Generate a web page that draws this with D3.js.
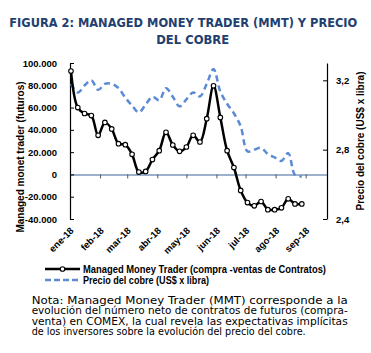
<!DOCTYPE html>
<html lang="es">
<head>
    <meta charset="utf-8" />
    <title>Figura 2: Managed Money Trader y precio del cobre</title>
    <script src="https://d3js.org/d3.v7.min.js"></script>
    <style>
        body { margin: 0; background: #fff; }
    </style>
</head>
<body>
<script>
    var w = 371;
    var h = 353;

    // fechas semanales (reportes COT, martes)
    var fechas = [
        "2018-01-02", "2018-01-09", "2018-01-16", "2018-01-23", "2018-01-30",
        "2018-02-06", "2018-02-13", "2018-02-20", "2018-02-27",
        "2018-03-06", "2018-03-13", "2018-03-20", "2018-03-27",
        "2018-04-03", "2018-04-10", "2018-04-17", "2018-04-24",
        "2018-05-01", "2018-05-08", "2018-05-15", "2018-05-22", "2018-05-29",
        "2018-06-05", "2018-06-12", "2018-06-19", "2018-06-26",
        "2018-07-03", "2018-07-10", "2018-07-17", "2018-07-24", "2018-07-31",
        "2018-08-07", "2018-08-14", "2018-08-21", "2018-08-28"
    ];
    // Managed Money Trader (contratos netos)
    var mmt = [
        92800, 60000, 54700, 52800, 35100,
        46700, 40800, 27600, 26700,
        18000, 2100, 2700, 13300,
        21300, 37800, 26400, 20700,
        24600, 35100, 29100, 50000, 79500,
        51200, 21300, 6200, -14400,
        -25300, -28200, -24300, -31600, -31600,
        -30000, -21900, -26500, -26500
    ];
    // Precio del cobre (US$ x libra)
    var precio = [
        3.18, 3.13, 3.17, 3.20, 3.145,
        3.18, 3.18, 3.155, 3.10,
        3.055, 3.015, 3.06, 3.105,
        3.085, 3.155, 3.105, 3.05,
        3.09, 3.13, 3.107, 3.18, 3.265,
        3.135, 3.065, 3.01, 2.935,
        2.79, 2.80, 2.81, 2.775, 2.755,
        2.735, 2.78, 2.655, 2.645
    ];
    var meses = ["ene-18", "feb-18", "mar-18", "abr-18", "may-18", "jun-18", "jul-18", "ago-18", "sep-18"];
    var mesesFecha = ["2018-01-01", "2018-02-01", "2018-03-01", "2018-04-01", "2018-05-01",
                      "2018-06-01", "2018-07-01", "2018-08-01", "2018-09-01"];
    var ticksIzq = [100000, 80000, 60000, 40000, 20000, 0, -20000, -40000];
    var ticksDer = [2.4, 2.8, 3.2];

    var nota = [
        "Nota: Managed Money Trader (MMT) corresponde a la",
        "evolución del número neto de contratos de futuros (compra-",
        "venta) en COMEX, la cual revela las expectativas implícitas",
        "de los inversores sobre la evolución del precio del cobre."
    ];

    var parse = d3.timeParse("%Y-%m-%d");
    var datos = fechas.map(function(f, i) {
        return { fecha: parse(f), mmt: mmt[i], precio: precio[i] };
    });

    // area del grafico (no usar "top": choca con window.top)
    var pLeft = 70, pRight = 327, pTop = 63, pBottom = 219;

    var es = d3.formatLocale({ decimal: ",", thousands: ".", grouping: [3], currency: ["$", ""], minus: "-" });

    var xScale = d3.scaleTime()
        .domain([parse("2018-01-01"), parse("2018-09-23")])
        .range([pLeft, pRight]);

    var yScale = d3.scaleLinear()
        .domain([-40000, 100000])
        .range([pBottom, pTop]);

    var y2Scale = d3.scaleLinear()
        .domain([2.4, 3.3])
        .range([pBottom, pTop]);

    var svg = d3.select("body")
        .append("svg")
        .attr("width", w)
        .attr("height", h);

    // titulo
    svg.append("text")
        .text("FIGURA 2: MANAGED MONEY TRADER (MMT) Y PRECIO")
        .attr("x", 183.3)
        .attr("y", 26.5)
        .attr("text-anchor", "middle")
        .attr("textLength", 348)
        .attr("lengthAdjust", "spacingAndGlyphs")
        .attr("font-family", "DejaVu Sans")
        .attr("font-stretch", "condensed")
        .attr("font-weight", "bold")
        .attr("font-size", "12.5px")
        .attr("fill", "#22406f");
    svg.append("text")
        .text("DEL COBRE")
        .attr("x", 192.7)
        .attr("y", 44.3)
        .attr("text-anchor", "middle")
        .attr("textLength", 73)
        .attr("lengthAdjust", "spacingAndGlyphs")
        .attr("font-family", "DejaVu Sans")
        .attr("font-stretch", "condensed")
        .attr("font-weight", "bold")
        .attr("font-size", "12.5px")
        .attr("fill", "#22406f");

    var fuente = "Liberation Sans";

    // eje x en cero (dibujado primero, debajo de las lineas)
    var ejeX = d3.axisBottom(xScale)
        .tickValues(mesesFecha.map(parse))
        .tickSizeInner(4)
        .tickSizeOuter(0)
        .tickFormat("");
    var gX = svg.append("g")
        .attr("transform", "translate(0," + yScale(0) + ")")
        .call(ejeX);
    gX.select(".domain").attr("stroke", "#7d97bd").attr("stroke-width", 1.5);
    gX.selectAll(".tick line").attr("stroke", "#555");

    // eje izquierdo
    var ejeIzq = d3.axisLeft(yScale)
        .tickValues(ticksIzq)
        .tickSizeInner(-4)
        .tickSizeOuter(0)
        .tickPadding(13)
        .tickFormat(es.format(",d"));
    var gIzq = svg.append("g")
        .attr("transform", "translate(" + pLeft + ",0)")
        .call(ejeIzq);
    gIzq.select(".domain").attr("stroke", "#000").attr("stroke-width", 1.2);
    gIzq.selectAll(".tick line").attr("stroke", "#000");
    gIzq.selectAll("text")
        .attr("font-family", fuente)
        .attr("font-weight", "bold")
        .attr("font-size", "9.5px")
        .attr("fill", "#000");

    // eje derecho
    var ejeDer = d3.axisRight(y2Scale)
        .tickValues(ticksDer)
        .tickSizeInner(-4)
        .tickSizeOuter(0)
        .tickPadding(9)
        .tickFormat(es.format(",.1f"));
    var gDer = svg.append("g")
        .attr("transform", "translate(" + pRight + ",0)")
        .call(ejeDer);
    gDer.select(".domain").attr("stroke", "#000").attr("stroke-width", 1.2);
    gDer.selectAll(".tick line").attr("stroke", "#000");
    gDer.selectAll("text")
        .attr("font-family", fuente)
        .attr("font-weight", "bold")
        .attr("font-size", "9.5px")
        .attr("fill", "#000");

    // etiquetas de meses
    svg.selectAll(".mes")
        .data(meses)
        .enter()
        .append("text")
        .attr("class", "mes")
        .text(function(d) { return d; })
        .attr("transform", function(d, i) {
            return "translate(" + (xScale(parse(mesesFecha[i])) + 2) + "," + 229 + ") rotate(-45)";
        })
        .attr("dy", "0.35em")
        .attr("text-anchor", "end")
        .attr("font-family", fuente)
        .attr("font-weight", "bold")
        .attr("font-size", "9.5px")
        .attr("fill", "#000");

    // titulos de ejes
    svg.append("text")
        .text("Managed monet trader (futuros)")
        .attr("transform", "translate(24,157) rotate(-90)")
        .attr("text-anchor", "middle")
        .attr("font-family", fuente)
        .attr("font-weight", "bold")
        .attr("font-size", "10px")
        .attr("fill", "#000");
    svg.append("text")
        .text("Precio del cobre (US$ x libra)")
        .attr("transform", "translate(364,141) rotate(-90)")
        .attr("text-anchor", "middle")
        .attr("font-family", fuente)
        .attr("font-weight", "bold")
        .attr("font-size", "10px")
        .attr("fill", "#000");

    // linea precio (punteada)
    var lineaPrecio = d3.line()
        .x(function(d) { return xScale(d.fecha); })
        .y(function(d) { return y2Scale(d.precio); })
        .curve(d3.curveCatmullRom.alpha(0.5));
    svg.append("path")
        .datum(datos)
        .attr("d", lineaPrecio)
        .attr("fill", "none")
        .attr("stroke", "#5b8bd4")
        .attr("stroke-width", 2.5)
        .attr("stroke-dasharray", "6,4");

    // linea MMT
    var lineaMmt = d3.line()
        .x(function(d) { return xScale(d.fecha); })
        .y(function(d) { return yScale(d.mmt); })
        .curve(d3.curveCatmullRom.alpha(0.5));
    svg.append("path")
        .datum(datos)
        .attr("d", lineaMmt)
        .attr("fill", "none")
        .attr("stroke", "#000")
        .attr("stroke-width", 2.5);

    svg.selectAll(".punto")
        .data(datos)
        .enter()
        .append("circle")
        .attr("class", "punto")
        .attr("cx", function(d) { return xScale(d.fecha); })
        .attr("cy", function(d) { return yScale(d.mmt); })
        .attr("r", 2.3)
        .attr("fill", "#fff")
        .attr("stroke", "#000")
        .attr("stroke-width", 1.1);

    // leyenda
    var ley = svg.append("g");
    ley.append("line")
        .attr("x1", 45).attr("x2", 80).attr("y1", 269).attr("y2", 269)
        .attr("stroke", "#000").attr("stroke-width", 2.5);
    ley.append("circle")
        .attr("cx", 62.5).attr("cy", 269).attr("r", 2.3)
        .attr("fill", "#fff").attr("stroke", "#000").attr("stroke-width", 1.1);
    ley.append("text")
        .text("Managed Money Trader (compra -ventas de Contratos)")
        .attr("x", 83).attr("y", 269).attr("dy", "0.35em")
        .attr("textLength", 243)
        .attr("lengthAdjust", "spacingAndGlyphs")
        .attr("font-family", fuente).attr("font-weight", "bold")
        .attr("font-size", "10px").attr("fill", "#000");
    ley.append("line")
        .attr("x1", 45).attr("x2", 80).attr("y1", 280).attr("y2", 280)
        .attr("stroke", "#5b8bd4").attr("stroke-width", 2.5)
        .attr("stroke-dasharray", "6,3");
    ley.append("text")
        .text("Precio del cobre (US$ x libra)")
        .attr("x", 83).attr("y", 280).attr("dy", "0.35em")
        .attr("textLength", 126)
        .attr("lengthAdjust", "spacingAndGlyphs")
        .attr("font-family", fuente).attr("font-weight", "bold")
        .attr("font-size", "10px").attr("fill", "#000");

    // nota (justificada)
    var anchos = [316, 316, 316, 274];
    svg.selectAll(".nota")
        .data(nota)
        .enter()
        .append("text")
        .attr("class", "nota")
        .text(function(d) { return d; })
        .attr("x", 31.7)
        .attr("y", function(d, i) { return 304 + i * 10.4; })
        .attr("textLength", function(d, i) { return anchos[i]; })
        .attr("lengthAdjust", "spacingAndGlyphs")
        .attr("font-family", "DejaVu Sans")
        .attr("font-size", "10px")
        .attr("fill", "#000");
</script>
</body>
</html>
